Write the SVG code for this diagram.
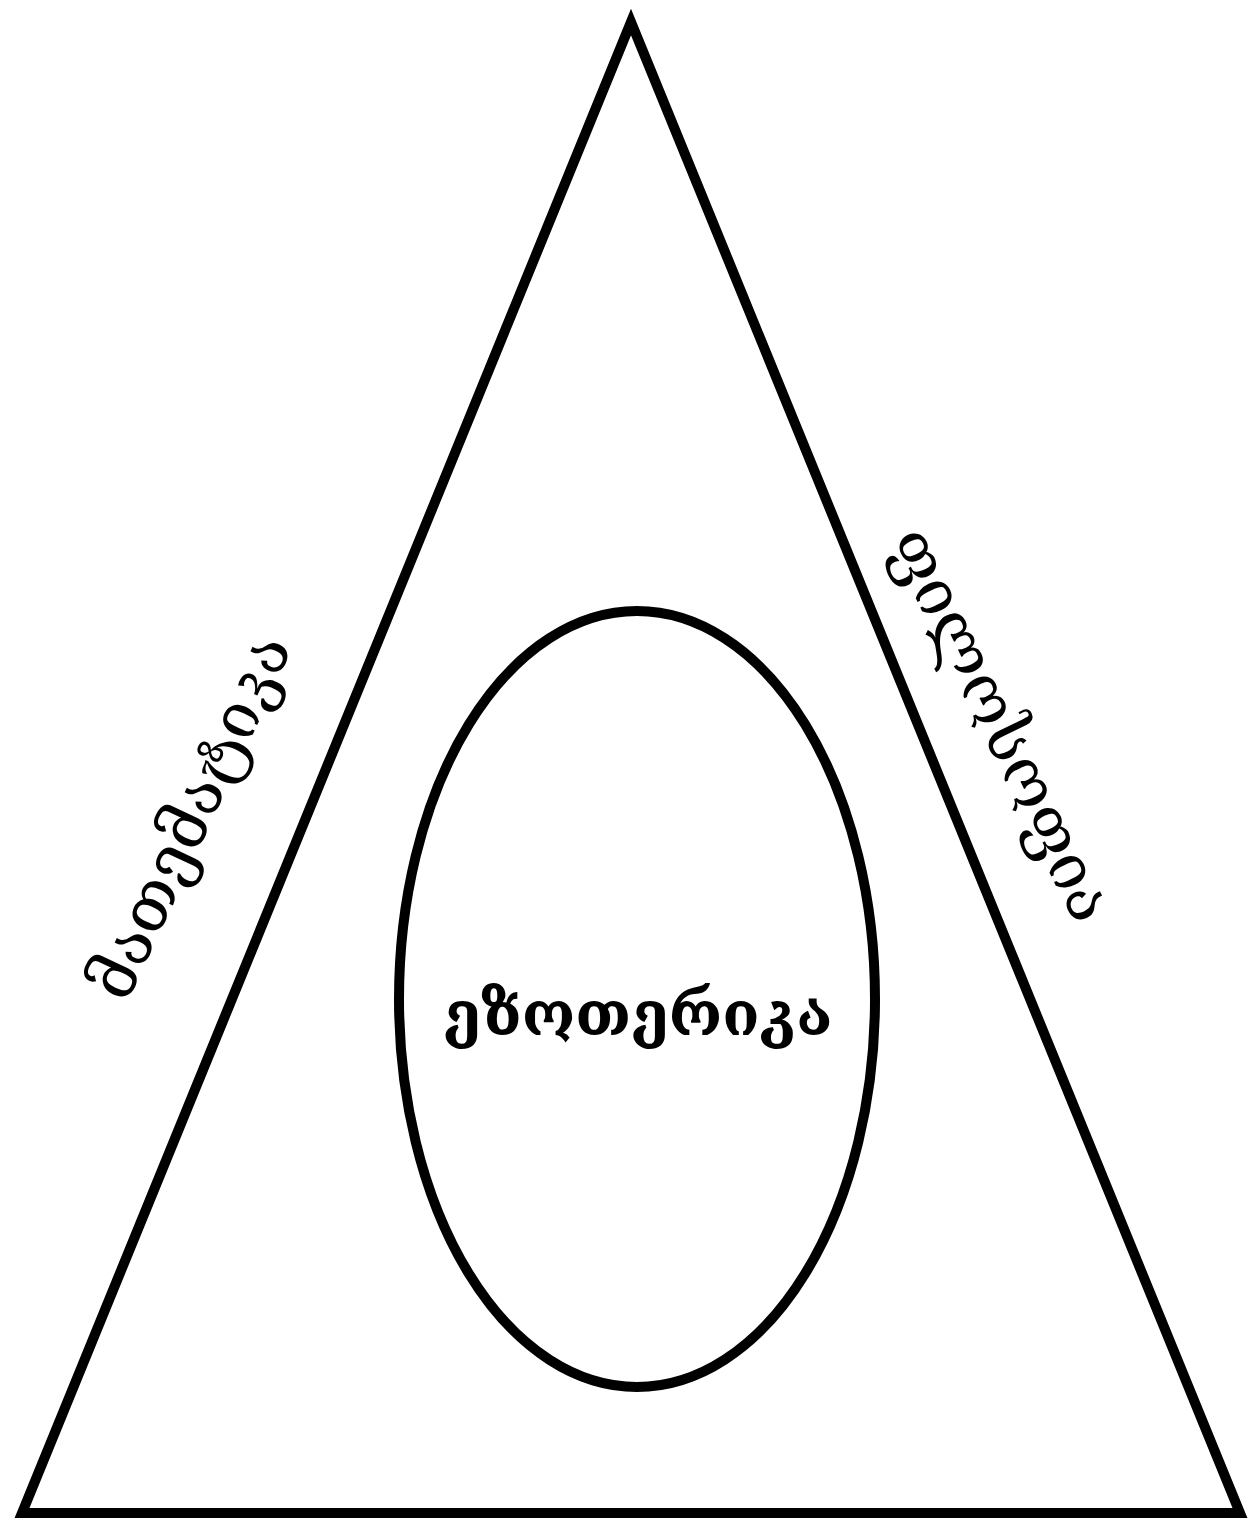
<svg xmlns="http://www.w3.org/2000/svg" width="1249" height="1523" viewBox="0 0 1249 1523">
<style>
.shape{fill:#fff;stroke:#000;stroke-width:10;}
.lbl{font-family:"DejaVu Serif","Noto Serif",serif;font-size:65px;fill:#000;text-anchor:middle;}
.bold{font-weight:bold;font-size:61px;}
</style>
<rect width="1249" height="1523" fill="#fff"/>
<g id="triangle">
<polygon class="shape" points="631,22 22,1513 1240,1513"/>
<text class="lbl" transform="translate(210,826) rotate(-65)">მათემატიკა</text>
<text class="lbl" transform="translate(982,734) rotate(64)">ფილოსოფია</text>
</g>
<g id="ellipse">
<ellipse class="shape" cx="637" cy="999" rx="238" ry="388"/>
<text class="lbl bold" x="638" y="1035">ეზოთერიკა</text>
</g>
<g id="connectors"/>
</svg>
